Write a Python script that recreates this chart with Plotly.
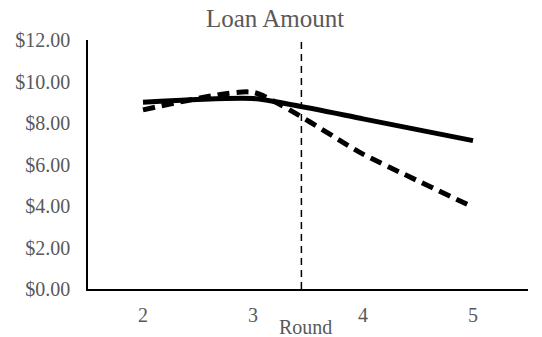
import plotly.graph_objects as go

rounds = [2, 3, 4, 5]
series_solid = [9.00, 9.18, 8.20, 7.15]
series_dashed = [8.63, 9.48, 6.50, 3.95]
y_ticks = [0, 2, 4, 6, 8, 10, 12]
y_tick_labels = ["$0.00", "$2.00", "$4.00", "$6.00", "$8.00", "$10.00", "$12.00"]
divider_x = 3.44

font_family = "Liberation Serif, Times New Roman, serif"
grey = "#595959"

fig = go.Figure()
fig.add_trace(go.Scatter(
    x=rounds, y=series_solid, mode="lines",
    line=dict(color="black", width=5, shape="spline", smoothing=0.5),
    showlegend=False,
))
fig.add_trace(go.Scatter(
    x=rounds, y=series_dashed, mode="lines",
    line=dict(color="black", width=5, dash="12px,7px", shape="spline", smoothing=0.5),
    showlegend=False,
))
fig.add_shape(type="line", x0=divider_x, x1=divider_x, y0=0, y1=12,
              xref="x", yref="y",
              line=dict(color="black", width=1.5, dash="7px,5px"))

fig.update_layout(
    width=542, height=337,
    margin=dict(l=88, r=14, t=40, b=48, autoexpand=False),
    paper_bgcolor="white", plot_bgcolor="white",
    font=dict(family=font_family, color=grey, size=20),
    title=dict(text="Loan Amount", x=(275 / 542), xanchor="center",
               y=1 - 18 / 337, yanchor="middle",
               font=dict(family=font_family, color=grey, size=25)),
    xaxis=dict(range=[1.5, 5.5], tickvals=rounds, ticktext=[str(r) for r in rounds],
               showgrid=False, zeroline=False, showline=True, linecolor="black",
               linewidth=1.5, ticks="", ticklabelstandoff=7, automargin=False,
               tickfont=dict(family=font_family, color=grey, size=20)),
    yaxis=dict(range=[0, 12], tickvals=y_ticks, ticktext=y_tick_labels,
               showgrid=False, zeroline=False, showline=True, linecolor="black",
               linewidth=1.5, ticks="", ticklabelstandoff=12, automargin=False,
               tickfont=dict(family=font_family, color=grey, size=20)),
    annotations=[dict(text="Round", xref="paper", yref="paper",
                      x=(305 - 88) / 440, y=(289 - 327) / 249,
                      xanchor="center", yanchor="middle", showarrow=False,
                      font=dict(family=font_family, color=grey, size=20))],
)

fig.write_html("out.html",
               config={"displayModeBar": False},
               post_script="document.body.style.margin='0';document.body.style.overflow='hidden';")
